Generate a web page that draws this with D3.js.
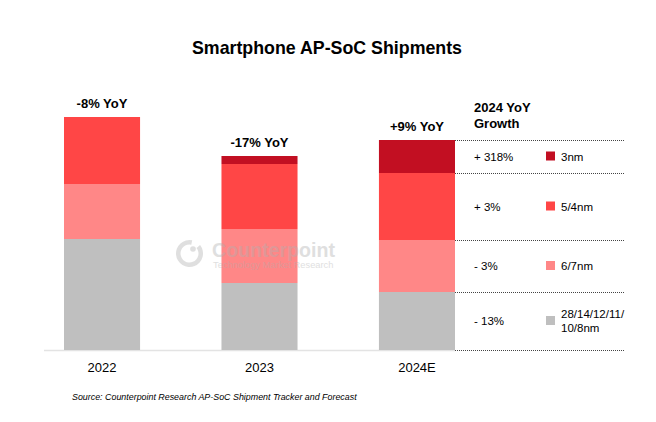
<!DOCTYPE html>
<html>
<head>
<meta charset="utf-8">
<script src="https://cdn.jsdelivr.net/npm/d3@7"></script>
<style>
  body { margin: 0; background: #fff; }
  text { font-family: "Liberation Sans", Arial, sans-serif; }
</style>
</head>
<body>
<div id="chart"></div>
<script>
const years = ["2022", "2023", "2024E"];
const nodes = ["28/14/12/11/10/8nm", "6/7nm", "5/4nm", "3nm"];
const legendLines = [["28/14/12/11/", "10/8nm"], ["6/7nm"], ["5/4nm"], ["3nm"]];
const colors = ["#bfbfbf", "#ff8787", "#ff4646", "#c20f22"];
// shipments per node, relative units
const legacy = [111, 67, 58];
const n67 = [55, 54, 52];
const n54 = [67, 65, 67];
const n3 = [0, 8, 33];
const yoyLabels = ["-8% YoY", "-17% YoY", "+9% YoY"];
const growth2024 = ["- 13%", "- 3%", "+ 3%", "+ 318%"];

const width = 656, height = 422;
const svg = d3.select("#chart").append("svg")
    .attr("width", width)
    .attr("height", height);

const data = years.map(function (y, i) {
    return {year: y, legacy: legacy[i], n67: n67[i], n54: n54[i], n3: n3[i]};
});
const keys = ["legacy", "n67", "n54", "n3"];
const stacked = d3.stack().keys(keys)(data);

const x = d3.scaleBand()
    .domain(years)
    .range([64, 455])
    .paddingInner(0.517)
    .paddingOuter(0);

const y = d3.scaleLinear()
    .domain([0, 233])
    .range([350, 117]);

svg.append("text")
    .attr("x", 327)
    .attr("y", 54)
    .attr("text-anchor", "middle")
    .style("font-size", "17.8px")
    .style("font-weight", "bold")
    .text("Smartphone AP-SoC Shipments");

// baseline
svg.append("line")
    .attr("x1", 44).attr("x2", 455)
    .attr("y1", y(0) + 0.5).attr("y2", y(0) + 0.5)
    .attr("stroke", "#e3e3e3")
    .attr("stroke-width", 1.5);

svg.append("g")
    .selectAll("g")
    .data(stacked)
    .enter()
    .append("g")
    .attr("fill", function (d, i) { return colors[i]; })
    .selectAll("rect")
    .data(function (d) { return d; })
    .enter()
    .append("rect")
    .attr("x", function (d) { return x(d.data.year); })
    .attr("y", function (d) { return y(d[1]); })
    .attr("width", x.bandwidth())
    .attr("height", function (d) { return y(d[0]) - y(d[1]); });

// year labels
svg.append("g")
    .selectAll("text")
    .data(years)
    .enter()
    .append("text")
    .attr("x", function (d) { return x(d) + x.bandwidth() / 2; })
    .attr("y", 372)
    .attr("text-anchor", "middle")
    .style("font-size", "13px")
    .text(function (d) { return d; });

// YoY labels
const topLayer = stacked[stacked.length - 1];
svg.append("g")
    .selectAll("text")
    .data(years)
    .enter()
    .append("text")
    .attr("x", function (d) { return x(d) + x.bandwidth() / 2; })
    .attr("y", function (d, i) { return y(topLayer[i][1]) - 9; })
    .attr("text-anchor", "middle")
    .style("font-size", "13px")
    .style("font-weight", "bold")
    .text(function (d, i) { return yoyLabels[i]; });

// 2024 growth table
const last = years.length - 1;
const tx0 = x(years[last]) + x.bandwidth();
const tx1 = 624;
const legend = svg.append("g");

legend.append("text")
    .attr("x", 474)
    .style("font-size", "13px")
    .style("font-weight", "bold")
    .selectAll("tspan")
    .data(["2024 YoY", "Growth"])
    .enter()
    .append("tspan")
    .attr("x", 474)
    .attr("y", function (d, i) { return 112 + i * 15.5; })
    .text(function (d) { return d; });

const bounds = [0].concat(stacked.map(function (s) { return s[last][1]; }));
legend.selectAll("line")
    .data(bounds)
    .enter()
    .append("line")
    .attr("x1", tx0).attr("x2", tx1)
    .attr("y1", function (d) { return Math.round(y(d)) + 0.5; })
    .attr("y2", function (d) { return Math.round(y(d)) + 0.5; })
    .attr("stroke", "#444")
    .attr("stroke-width", 1)
    .attr("stroke-dasharray", "1,1");

const rows = legend.selectAll("g.row")
    .data(stacked)
    .enter()
    .append("g")
    .attr("class", "row")
    .attr("transform", function (s) {
        const mid = (y(s[last][0]) + y(s[last][1])) / 2;
        return `translate(0, ${mid})`;
    });

rows.append("text")
    .attr("x", 474)
    .attr("y", 4)
    .style("font-size", "11.5px")
    .text(function (s, i) { return growth2024[i]; });

rows.append("rect")
    .attr("x", 546)
    .attr("y", -5)
    .attr("width", 9)
    .attr("height", 9)
    .attr("fill", function (s, i) { return colors[i]; });

rows.append("text")
    .style("font-size", "11.5px")
    .selectAll("tspan")
    .data(function (s, i) { return legendLines[i]; })
    .enter()
    .append("tspan")
    .attr("x", 561)
    .attr("y", function (d, j, arr) { return 4 + (j - (arr.length - 1) / 2) * 13.5; })
    .text(function (d) { return d; });

// watermark
const wm = svg.append("g")
    .attr("opacity", 0.4)
    .attr("fill", "#b0b0b0");
wm.append("path")
    .attr("d", d3.arc()({innerRadius: 9, outerRadius: 13.5, startAngle: 0.9, endAngle: 2 * Math.PI + 0.2}))
    .attr("transform", "translate(189.5,253.5)");
wm.append("circle")
    .attr("cx", 193).attr("cy", 249).attr("r", 2.8);
wm.append("text")
    .attr("x", 212).attr("y", 257)
    .style("font-size", "19.6px")
    .style("font-weight", "bold")
    .text("Counterpoint");
wm.append("text")
    .attr("x", 213).attr("y", 268)
    .style("font-size", "9.3px")
    .text("Technology Market Research");

svg.append("text")
    .attr("x", 72)
    .attr("y", 400)
    .style("font-size", "8.9px")
    .style("font-style", "italic")
    .text("Source: Counterpoint Research AP-SoC Shipment Tracker and Forecast");
</script>
</body>
</html>
